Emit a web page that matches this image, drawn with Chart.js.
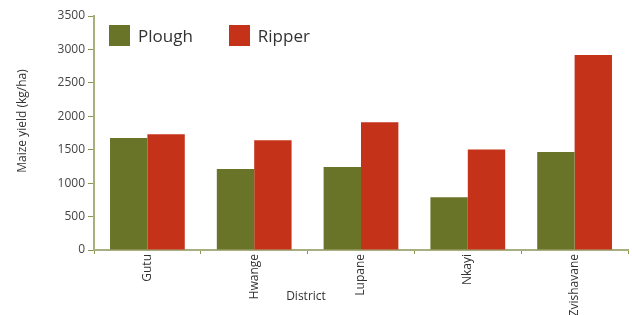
<!DOCTYPE html>
<html lang="en">
<head>
  <meta charset="UTF-8">
  <title>Maize yield by district</title>
  <script src="https://cdn.jsdelivr.net/npm/chart.js"></script>
  <style>
    body {
      margin: 0;
      background: #fff;
      font-family: "Open Sans", sans-serif;
    }
    .wrap {
      position: relative;
      width: 632px;
      height: 315px;
    }
    #legend {
      position: absolute;
      left: 109px;
      top: 24px;
      display: flex;
      font-size: 17px;
      color: #333;
    }
    .item {
      display: flex;
      align-items: center;
      margin-right: 36px;
    }
    .box {
      width: 21px;
      height: 21px;
      margin-right: 8px;
    }
  </style>
</head>
<body>
  <div class="wrap">
    <canvas id="chart" width="632" height="315"></canvas>
    <div id="legend"></div>
  </div>

  <script>
    const districts = ['Gutu', 'Hwange', 'Lupane', 'Nkayi', 'Zvishavane'];
    const plough = [1675, 1210, 1240, 790, 1465];
    const ripper = [1730, 1640, 1910, 1505, 2915];
    const yTicks = [0, 500, 1000, 1500, 2000, 2500, 3000, 3500];

    const olive = '#6a7429';
    const red = '#c43219';
    const axisColor = '#a9ae80';

    // axis titles sit a bit off-centre in the original, so draw them by hand
    const titles = {
      id: 'titles',
      afterDraw(chart) {
        const ctx = chart.ctx;
        ctx.save();
        ctx.fillStyle = '#333';
        ctx.font = '12px "Open Sans"';
        ctx.textAlign = 'center';
        ctx.textBaseline = 'middle';
        ctx.fillText('District', 306, 297);
        ctx.translate(23, 121);
        ctx.rotate(-Math.PI / 2);
        ctx.fillText('Maize yield (kg/ha)', 0, 0);
        ctx.restore();
      }
    };

    const chart = new Chart(document.getElementById('chart'), {
      type: 'bar',
      data: {
        labels: districts,
        datasets: [
          { label: 'Plough', data: plough, backgroundColor: olive },
          { label: 'Ripper', data: ripper, backgroundColor: red }
        ]
      },
      options: {
        responsive: false,
        animation: false,
        layout: { padding: { top: 16, right: 4 } },
        datasets: {
          bar: { categoryPercentage: 0.7, barPercentage: 1.0 }
        },
        scales: {
          x: {
            offset: true,
            grid: {
              offset: true,
              drawOnChartArea: false,
              color: '#8a9450',
              tickLength: 4
            },
            border: { color: axisColor, width: 2 },
            ticks: {
              minRotation: 90,
              maxRotation: 90,
              padding: 0,
              color: '#333',
              font: { family: 'Open Sans', size: 12 }
            },
            afterFit(scale) { scale.height = 65; }
          },
          y: {
            min: 0,
            max: 3500,
            afterBuildTicks(scale) {
              scale.ticks = yTicks.map(v => ({ value: v }));
            },
            grid: {
              drawOnChartArea: false,
              color: '#8a9450',
              tickLength: 6
            },
            border: { color: axisColor, width: 2 },
            ticks: {
              padding: 3,
              color: '#444',
              font: { family: 'Open Sans', size: 12 },
              callback: v => String(v)
            },
            afterFit(scale) { scale.width = 94; }
          }
        },
        plugins: {
          legend: { display: false },
          tooltip: { enabled: false }
        }
      },
      plugins: [titles]
    });

    const legend = document.getElementById('legend');
    chart.data.datasets.forEach(ds => {
      const item = document.createElement('div');
      item.className = 'item';
      item.innerHTML = '<span class="box" style="background:' + ds.backgroundColor + '"></span>' + ds.label;
      legend.appendChild(item);
    });
  </script>
</body>
</html>
